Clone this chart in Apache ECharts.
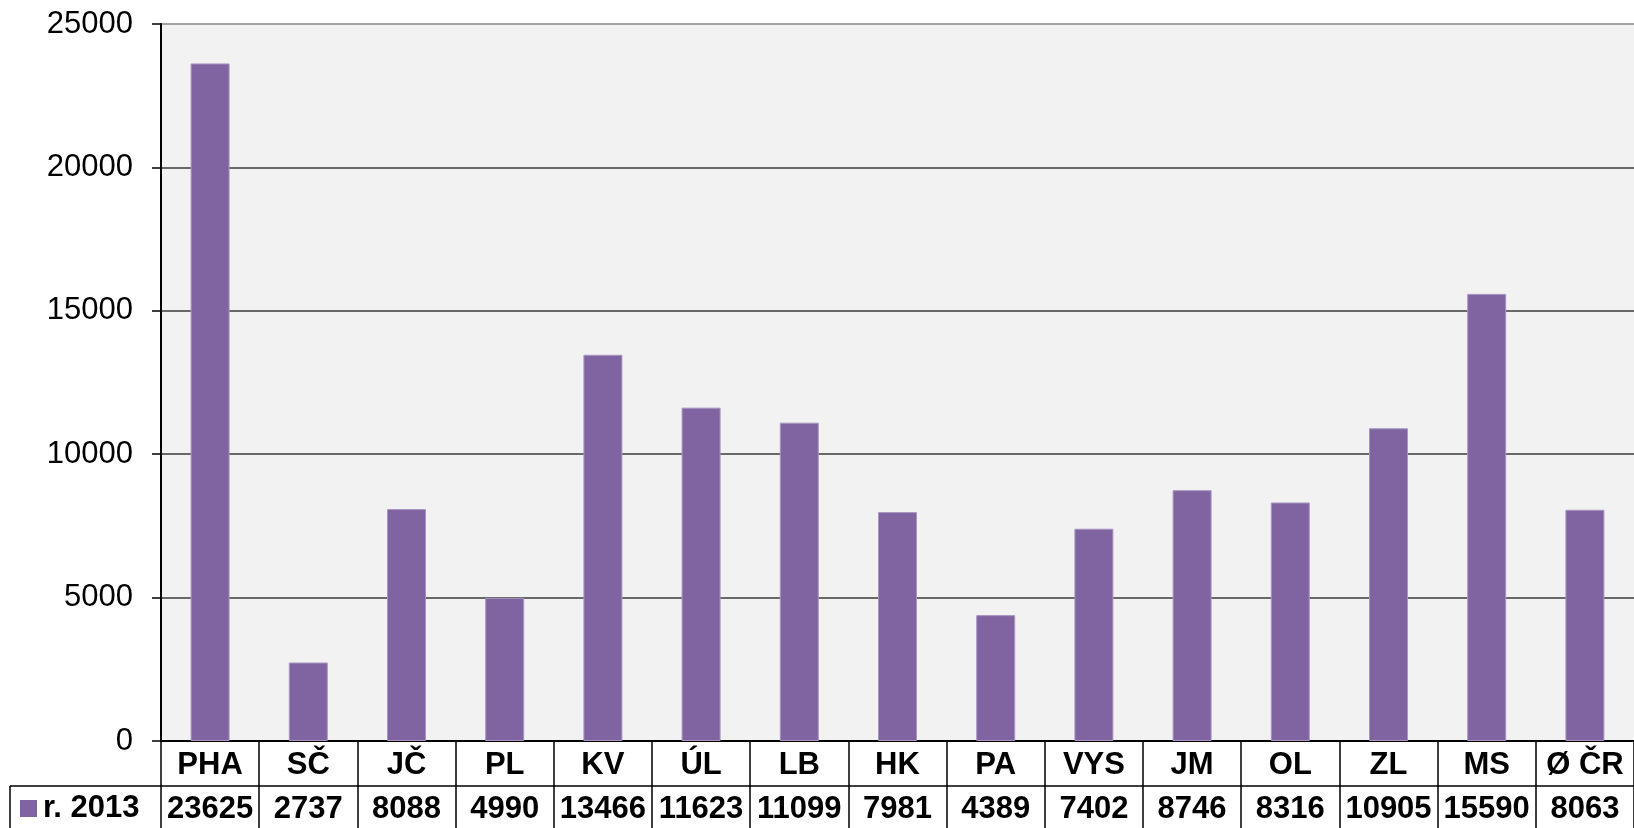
<!DOCTYPE html>
<html>
<head>
<meta charset="utf-8">
<script src="https://cdn.jsdelivr.net/npm/echarts@6/dist/echarts.min.js"></script>
<style>
    html, body { margin: 0; padding: 0; background: #fff; }
    #chartsBox { width: 1634px; height: 828px; }
</style>
</head>
<body>
<div id="chartsBox"></div>
<script>
// kraje + průměr ČR
var categories = ['PHA', 'SČ', 'JČ', 'PL', 'KV', 'ÚL', 'LB', 'HK', 'PA', 'VYS', 'JM', 'OL', 'ZL', 'MS', 'Ø ČR'];
var values2013 = [23625, 2737, 8088, 4990, 13466, 11623, 11099, 7981, 4389, 7402, 8746, 8316, 10905, 15590, 8063];
var seriesName = 'r. 2013';
var yTicks = [0, 5000, 10000, 15000, 20000, 25000];

var font = "'Liberation Sans', Arial, sans-serif";
var purple = '#8064A2';

var chartsObj = echarts.init(document.getElementById('chartsBox'));

var option = {
    animation: false,
    grid: {
        left: 161,
        right: -6,   // poslední sloupec je v originále oříznutý
        top: 24,
        bottom: 87,
        show: true,
        backgroundColor: '#F2F2F2',
        borderWidth: 0
    },
    xAxis: [
        {   // řádek s názvy krajů
            type: 'category',
            data: categories,
            position: 'bottom',
            axisLine: { show: true, lineStyle: { color: '#000', width: 2 } },
            axisTick: { show: true, length: 45, lineStyle: { color: '#000', width: 1.5 } },
            axisLabel: {
                interval: 0,
                margin: 24,
                verticalAlign: 'middle',
                fontFamily: font,
                fontSize: 31,
                fontWeight: 'bold',
                color: '#000'
            }
        },
        {   // řádek s hodnotami (tabulka dat)
            type: 'category',
            data: values2013.map(function (v) { return String(v); }),
            position: 'bottom',
            offset: 45,
            axisLine: { show: true, lineStyle: { color: '#000', width: 1.5 } },
            axisTick: { show: true, length: 42, lineStyle: { color: '#000', width: 1.5 } },
            axisLabel: {
                interval: 0,
                margin: 23,
                verticalAlign: 'middle',
                fontFamily: font,
                fontSize: 31,
                fontWeight: 'bold',
                color: '#000'
            }
        }
    ],
    yAxis: {
        type: 'value',
        min: yTicks[0],
        max: yTicks[yTicks.length - 1],
        interval: 5000,
        axisLine: { show: true, lineStyle: { color: '#000', width: 2 } },
        axisTick: { show: true, length: 9, lineStyle: { color: '#000', width: 1.5 } },
        axisLabel: {
            margin: 28,
            fontFamily: font,
            fontSize: 31,
            color: '#000',
            formatter: function (v) { return String(v); }
        },
        splitLine: {
            show: true,
            lineStyle: {
                color: ['#000', '#3a3a3a', '#3a3a3a', '#3a3a3a', '#3a3a3a', '#888'],
                width: 1.5
            }
        }
    },
    series: [
        {
            name: seriesName,
            type: 'bar',
            xAxisIndex: 0,
            barWidth: 39,
            data: values2013,
            itemStyle: {
                color: purple,
                borderColor: '#A896C0',
                borderWidth: 1
            }
        }
    ],
    // levá buňka tabulky s legendou
    graphic: [
        {
            type: 'line',
            shape: { x1: 10, y1: 786, x2: 161, y2: 786 },
            style: { stroke: '#000', lineWidth: 1.5 }
        },
        {
            type: 'line',
            shape: { x1: 10, y1: 786, x2: 10, y2: 828 },
            style: { stroke: '#000', lineWidth: 1.5 }
        },
        {
            type: 'rect',
            shape: { x: 20, y: 800, width: 17, height: 17 },
            style: { fill: purple }
        },
        {
            type: 'text',
            x: 43,
            y: 808,
            style: {
                text: seriesName,
                fontFamily: font,
                fontSize: 31,
                fontWeight: 'bold',
                fill: '#000',
                verticalAlign: 'middle'
            }
        }
    ]
};

chartsObj.setOption(option);
</script>
</body>
</html>
